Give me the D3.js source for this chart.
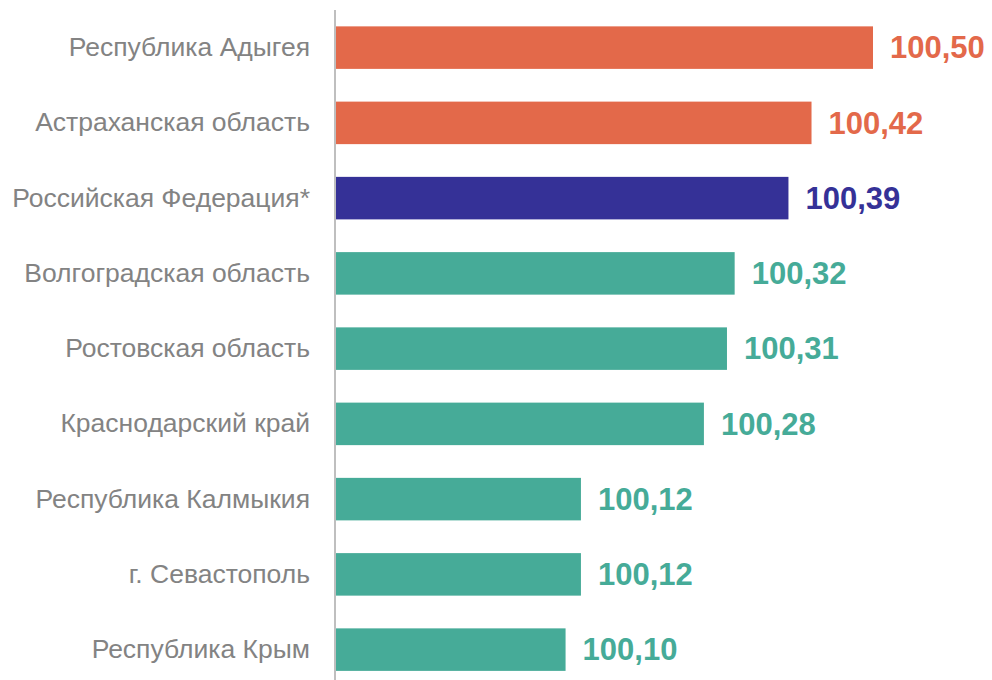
<!DOCTYPE html>
<html>
<head>
<meta charset="utf-8">
<script src="https://cdn.jsdelivr.net/npm/d3@7"></script>
<style>
  body { margin: 0; background: #fff; }
  svg { display: block; }
</style>
</head>
<body>
<script>
// Regions ranked by index value

const width = 992;
const height = 680;
const axisX = 335;

const regions = ["Республика Адыгея", "Астраханская область", "Российская Федерация*",
                 "Волгоградская область", "Ростовская область", "Краснодарский край",
                 "Республика Калмыкия", "г. Севастополь", "Республика Крым"];
const values = [100.50, 100.42, 100.39, 100.32, 100.31, 100.28, 100.12, 100.12, 100.10];
const groups = ["high", "high", "country", "low", "low", "low", "low", "low", "low"];

const colors = {high: "#E3694A", country: "#353197", low: "#46AB98"};

const rows = regions.map(function(r, i) {
    return {name: r, value: values[i], group: groups[i]};
});

const svg = d3.select("body").append("svg")
    .attr("width", width)
    .attr("height", height);

const x = d3.scaleLinear()
    .domain([99.8, 100.5])
    .range([axisX, 873]);

const y = d3.scaleBand()
    .domain(regions)
    .range([10, 10 + 9 * 75.25])
    .paddingInner(0.435)
    .paddingOuter(0.2175);

svg.selectAll(".bar")
    .data(rows)
    .enter()
    .append("rect")
    .attr("class", "bar")
    .attr("x", x(99.8))
    .attr("y", function(d) { return y(d.name); })
    .attr("width", function(d) { return x(d.value) - x(99.8); })
    .attr("height", y.bandwidth())
    .style("fill", function(d) { return colors[d.group]; });

// value labels
svg.selectAll(".val")
    .data(rows)
    .enter()
    .append("text")
    .attr("class", "val")
    .attr("x", function(d) { return x(d.value) + 17; })
    .attr("y", function(d) { return y(d.name) + y.bandwidth() / 2; })
    .attr("dy", "0.35em")
    .style("font-family", "'Liberation Sans', Arial, sans-serif")
    .style("font-weight", "bold")
    .style("font-size", "31px")
    .style("fill", function(d) { return colors[d.group]; })
    .text(function(d) { return d3.format(".2f")(d.value).replace(".", ","); });

// left axis, only the line and the labels
const yAxis = svg.append("g")
    .attr("transform", "translate(" + axisX + ",0)")
    .call(d3.axisLeft(y).tickSize(0).tickPadding(25));

yAxis.select(".domain")
    .attr("d", "M0,10V" + height)
    .style("stroke", "#BFBFBF")
    .style("stroke-width", 2);

yAxis.selectAll("text")
    .style("font-family", "'Liberation Sans', Arial, sans-serif")
    .style("font-size", "26.5px")
    .style("fill", "#838383");
</script>
</body>
</html>
